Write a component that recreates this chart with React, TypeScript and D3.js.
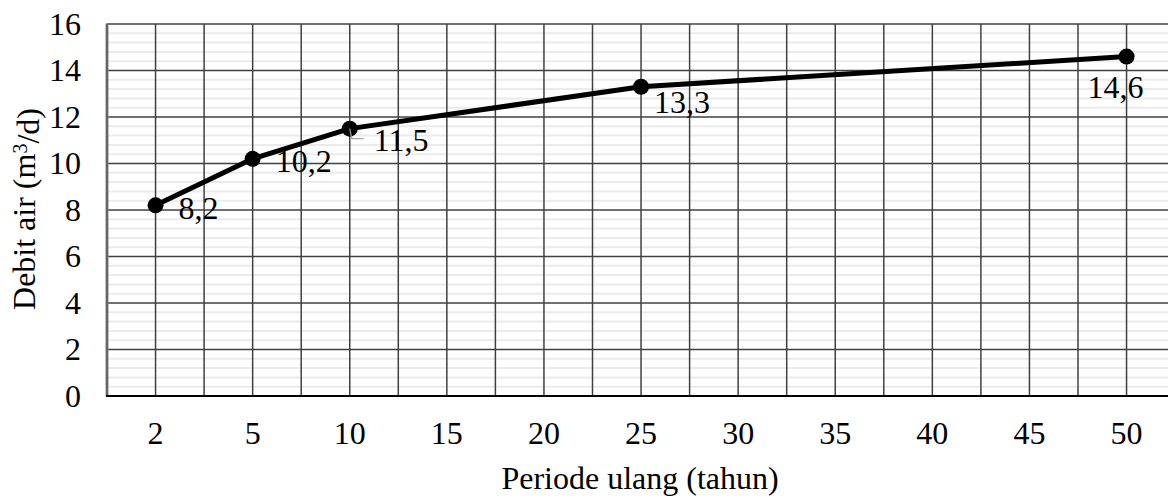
import React from "react";
import * as d3 from "d3";

const categories = ["2", "5", "10", "15", "20", "25", "30", "35", "40", "45", "50"];
const pointCategories = ["2", "5", "10", "25", "50"];
const pointValues = [8.2, 10.2, 11.5, 13.3, 14.6];
const yTicks = [0, 2, 4, 6, 8, 10, 12, 14, 16];

// label offsets (style, not data)
const labelOffsets = [
  { dx: 23, dy: 3 },
  { dx: 23, dy: 3 },
  { dx: 24, dy: 12 },
  { dx: 13, dy: 16 },
  { dx: -39, dy: 31 },
];

const W = 1168;
const H = 496;
const left = 107;
const bandStep = 97.1;
const top = 24;
const bottom = 396;
const ts = { fontFamily: '"Liberation Serif"' };

export default function App() {
  const x = d3
    .scaleBand<string>()
    .domain(categories)
    .range([left, left + bandStep * categories.length])
    .padding(0);
  const y = d3.scaleLinear().domain([0, 16]).range([bottom, top]);
  const cx = (c: string) => (x(c) as number) + x.bandwidth() / 2;

  const minorTicks = d3.range(0, 16.001, 0.4).filter((v) => Math.abs(v / 2 - Math.round(v / 2)) > 0.01);

  const pts = pointCategories.map((c, i) => [cx(c), y(pointValues[i])] as [number, number]);
  const line = d3.line().curve(d3.curveLinear)(pts) || "";

  const right = left + bandStep * categories.length;
  const verticals: number[] = [];
  categories.forEach((c) => {
    verticals.push(cx(c));
    verticals.push((x(c) as number) + x.bandwidth());
  });

  return (
    <svg width={W} height={H} style={{ position: "absolute", left: 0, top: 0, background: "#fff" }}>
      <rect x={0} y={0} width={W} height={H} fill="#fff" />
      {minorTicks.map((v) => (
        <line key={"mn" + v} x1={left} x2={right} y1={y(v)} y2={y(v)} stroke="#ebebeb" strokeWidth={2} />
      ))}
      {yTicks.slice(1).map((v) => (
        <line key={"mj" + v} x1={left} x2={right} y1={y(v)} y2={y(v)} stroke="#404040" strokeWidth={1.5} />
      ))}
      {verticals.map((vx, i) => (
        <line key={"v" + i} x1={vx} x2={vx} y1={top} y2={bottom} stroke="#404040" strokeWidth={1.5} />
      ))}
      <line x1={left} x2={left} y1={top - 0.75} y2={bottom} stroke="#8a8a8a" strokeWidth={3} />
      <line x1={left} x2={left} y1={top} y2={bottom} stroke="#404040" strokeWidth={1} />
      <line x1={left - 1} x2={right} y1={bottom} y2={bottom} stroke="#000" strokeWidth={2} />

      {yTicks.map((v) => (
        <text key={"yt" + v} style={ts} x={81} y={y(v)} dy="0.33em" textAnchor="end" fontSize={32} fill="#000">
          {v}
        </text>
      ))}
      {categories.map((c) => (
        <text key={"xt" + c} style={ts} x={cx(c)} y={433} dy="0.33em" textAnchor="middle" fontSize={32} fill="#000">
          {c}
        </text>
      ))}

      <path d={line} fill="none" stroke="#000" strokeWidth={5} strokeLinejoin="round" />
      {pts.map((p, i) => (
        <circle key={"pt" + i} cx={p[0]} cy={p[1]} r={8} fill="#000" />
      ))}
      <path
        d={`M${pts[2][0]},${pts[2][1]} L${pts[2][0] + 2},${pts[2][1] + 10} L${pts[2][0] + 14},${pts[2][1] + 10}`}
        fill="none"
        stroke="#a6a6a6"
        strokeWidth={1.2}
      />
      {pts.map((p, i) => (
        <text
          key={"lb" + i}
          style={ts}
          x={p[0] + labelOffsets[i].dx}
          y={p[1] + labelOffsets[i].dy}
          dy="0.33em"
          fontSize={32}
          fill="#000"
        >
          {String(pointValues[i]).replace(".", ",")}
        </text>
      ))}

      <text style={ts} x={640} y={478} dy="0.33em" textAnchor="middle" fontSize={32} fill="#000">
        Periode ulang (tahun)
      </text>
      <text
        style={ts}
        transform={`translate(24,209) rotate(-90)`}
        dy="0.33em"
        textAnchor="middle"
        fontSize={32}
        fill="#000"
      >
        Debit air (m<tspan dy="-0.4em" fontSize={20}>3</tspan>
        <tspan dy="0.4em">/d)</tspan>
      </text>
    </svg>
  );
}
